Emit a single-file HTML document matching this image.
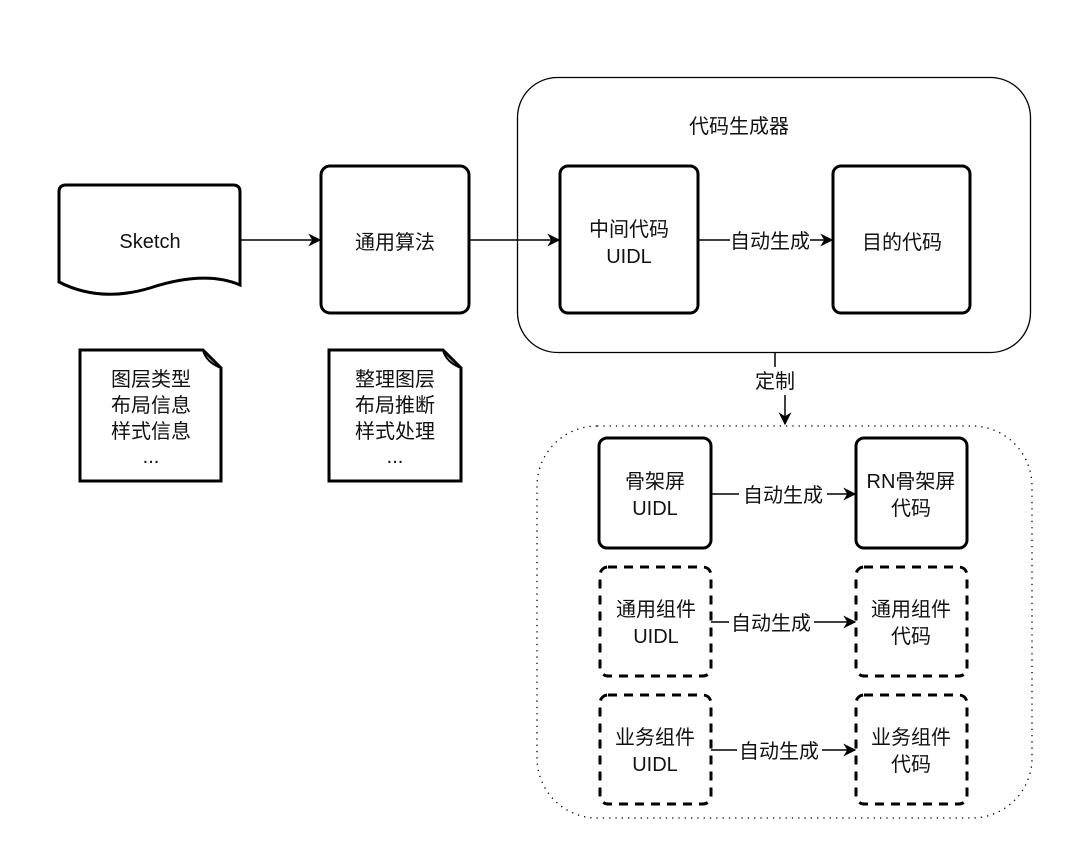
<!DOCTYPE html>
<html><head><meta charset="utf-8"><style>
html,body{margin:0;padding:0;background:#fff;}
svg text{font-family:"Liberation Sans","Noto Sans CJK SC",sans-serif;font-size:20px;fill:#111;}
</style></head><body>
<svg width="1080" height="855" viewBox="0 0 1080 855" xmlns="http://www.w3.org/2000/svg">
<defs>
<marker id="a" viewBox="0 0 10 10" refX="9" refY="5" markerWidth="13" markerHeight="13" markerUnits="userSpaceOnUse" orient="auto">
<path d="M0,0 L10,5 L0,10 L3,5 Z" fill="#000"/></marker>
</defs>
<g fill="none" stroke="#000">
<path d="M66,185 H233 Q240,185 240,192 V285 Q205,270 150,288 Q100,303 59,282 V192 Q59,185 66,185 Z" stroke-width="3"/>
<rect x="321" y="166" width="148" height="147" rx="9" stroke-width="3"/>
<path d="M80,350 H203 L221,368 V481 H80 Z" stroke-width="3"/>
<path d="M203,350 Q206,362 221,368" stroke-width="2"/>
<path d="M329,350 H443 L461,368 V481 H329 Z" stroke-width="3"/>
<path d="M443,350 Q446,362 461,368" stroke-width="2"/>
<rect x="517.5" y="77.5" width="513" height="275" rx="40" stroke-width="1.3"/>
<rect x="560" y="166" width="138" height="147" rx="8" stroke-width="3"/>
<rect x="833" y="166" width="137" height="147" rx="8" stroke-width="3"/>
<rect x="537" y="426" width="495" height="392" rx="60" stroke-width="1.3" stroke-dasharray="1.3 5"/>
<rect x="599" y="438" width="112" height="110" rx="8" stroke-width="3"/>
<rect x="856" y="438" width="111" height="110" rx="8" stroke-width="3"/>
<rect x="600" y="567" width="111" height="109" rx="8" stroke-width="3" stroke-dasharray="9 7"/>
<rect x="856" y="567" width="111" height="109" rx="8" stroke-width="3" stroke-dasharray="9 7"/>
<rect x="600" y="695" width="111" height="109" rx="8" stroke-width="3" stroke-dasharray="9 7"/>
<rect x="856" y="695" width="111" height="109" rx="8" stroke-width="3" stroke-dasharray="9 7"/>
<g stroke-width="1.5">
<line x1="240" y1="240" x2="320" y2="240" marker-end="url(#a)"/>
<line x1="469" y1="240" x2="559" y2="240" marker-end="url(#a)"/>
<line x1="698" y1="240" x2="730" y2="240"/>
<line x1="810" y1="240" x2="832" y2="240" marker-end="url(#a)"/>
<line x1="775" y1="352" x2="775" y2="367"/>
<line x1="785" y1="395" x2="785" y2="424" marker-end="url(#a)"/>
<line x1="711" y1="494" x2="739" y2="494"/>
<line x1="827" y1="494" x2="855" y2="494" marker-end="url(#a)"/>
<line x1="711" y1="622" x2="729" y2="622"/>
<line x1="814" y1="622" x2="855" y2="622" marker-end="url(#a)"/>
<line x1="711" y1="750" x2="737" y2="750"/>
<line x1="822" y1="750" x2="855" y2="750" marker-end="url(#a)"/>
</g>
</g>
<g text-anchor="middle">
<text x="150" y="248">Sketch</text>
<text x="395" y="249">通用算法</text>
<text x="151" y="386">图层类型</text>
<text x="151" y="412">布局信息</text>
<text x="151" y="438">样式信息</text>
<text x="151" y="463">...</text>
<text x="395" y="386">整理图层</text>
<text x="395" y="412">布局推断</text>
<text x="395" y="438">样式处理</text>
<text x="395" y="463">...</text>
<text x="739" y="133">代码生成器</text>
<text x="629" y="236">中间代码</text>
<text x="629" y="263">UIDL</text>
<text x="770" y="248">自动生成</text>
<text x="902" y="249">目的代码</text>
<text x="775" y="388">定制</text>
<text x="655" y="488">骨架屏</text>
<text x="655" y="515">UIDL</text>
<text x="783" y="502">自动生成</text>
<text x="911" y="488">RN骨架屏</text>
<text x="911" y="515">代码</text>
<text x="656" y="616">通用组件</text>
<text x="656" y="643">UIDL</text>
<text x="771" y="630">自动生成</text>
<text x="911" y="616">通用组件</text>
<text x="911" y="643">代码</text>
<text x="655" y="744">业务组件</text>
<text x="655" y="771">UIDL</text>
<text x="779" y="758">自动生成</text>
<text x="911" y="744">业务组件</text>
<text x="911" y="771">代码</text>
</g>
</svg>
</body></html>
